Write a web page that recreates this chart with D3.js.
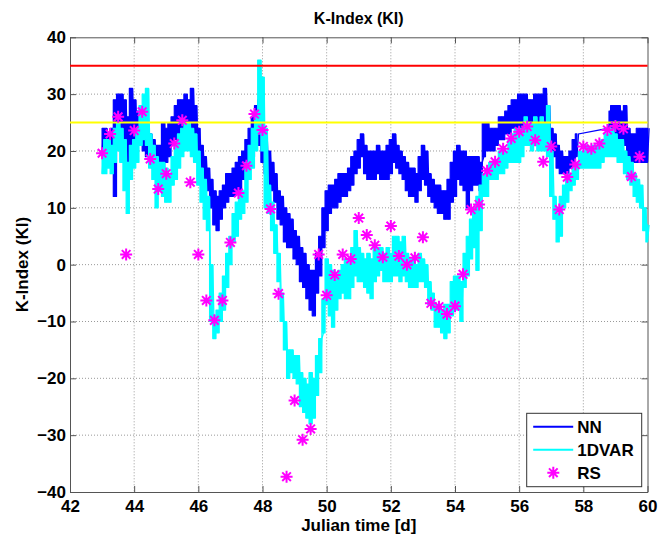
<!DOCTYPE html>
<html>
<head>
<meta charset="utf-8">
<script src="https://cdnjs.cloudflare.com/ajax/libs/d3/7.8.5/d3.min.js"></script>
<style>
    body { margin: 0; background: #fff; }
    #chart-area { width: 665px; height: 534px; }
    text { font-family: "Liberation Sans", Arial, sans-serif; font-weight: bold; fill: #000; }
</style>
</head>
<body>
<div id="chart-area"></div>
<script>

// sample times of the retrievals: every 0.1 d from 43.0 to 60.0
const sampleTimes = d3.range(171).map(i => 43 + i / 10);

// NN retrieval, upper / lower edge of the noisy trace (null = no data)
const nnHi = [
    24, 24, 23, 24, 29, 30, 30, 29, 26, 31,
    29, 27, 27, 26, 24, 23, 22, 21, 21, 25,
    24, 25, 26, 28, 29, 29, 30, 29, 31, 28,
    24, 21, 19, 17, 15, 13, 12, 13, 14, 16,
    16, 17, 18, 19, 20, 22, 24, 26, 28, 29,
    24, 22, 20, 18, 16, 13, 12, 10, 9, 8,
    6, 5, 3, 2, 0, -1, -1, 2, 5, 10,
    13, 14, 14, 15, 16, 16, 16, 17, 19, 20,
    22, 23, 21, 20, 20, 20, 21, 20, 20, 21,
    22, 23, 21, 20, 19, 18, 17, 17, 16, 19,
    21, 20, 16, 15, 14, 14, 13, 13, 15, 18,
    20, 21, 20, 20, 19, 19, 19, 19, 18, 25,
    25, 24, 24, 24, 26, 26, 27, 28, 29, 29,
    30, 30, 30, 29, 29, 30, 30, 30, 31, 28,
    24, 23, 21, 20, 19, 19, 20, 22, 23, null,
    null, null, null, null, null, null, null, null, 27, 28,
    28, 28, 27, 28, 24, 23, 23, 24, 24, 24,
    24
];
const nnLo = [
    20, 19, 19, 18, 12, 22, 23, 19, 17, 20,
    22, 22, 22, 20, 19, 18, 17, 16, 16, 17,
    18, 19, 21, 22, 23, 23, 24, 24, 23, 22,
    20, 16, 15, 13, 10, 7, 6, 8, 10, 11,
    12, 12, 13, 13, 15, 16, 18, 19, 21, 21,
    18, 16, 14, 13, 11, 8, 7, 4, 3, 3,
    1, 0, -3, -4, -6, -8, -9, -5, -2, 3,
    6, 9, 10, 10, 11, 12, 12, 13, 14, 16,
    17, 19, 16, 15, 15, 15, 16, 15, 15, 15,
    16, 18, 17, 16, 15, 13, 12, 12, 11, 13,
    15, 14, 12, 11, 10, 9, 9, 8, 8, 11,
    12, 15, 14, 13, 10, 13, 14, 14, 13, 19,
    20, 20, 20, 21, 22, 22, 23, 23, 24, 24,
    24, 24, 25, 25, 24, 24, 24, 24, 24, 22,
    20, 19, 17, 16, 16, 16, 17, 18, 19, null,
    null, null, null, null, null, null, null, null, 24, 23,
    22, 22, 22, 21, 19, 18, 18, 18, 18, 18,
    18
];

// 1DVAR retrieval, upper / lower edge of the noisy trace
const varHi = [
    20, 22, 22, 21, 24, 25, 24, 22, 18, 21,
    22, 24, 28, 30, 31, 23, 21, 19, 18, 18,
    17, 16, 19, 21, 23, 24, 25, 25, 24, 23,
    20, 17, 15, 12, 0, -9, -8, -5, -2, 2,
    5, 9, 11, 13, 13, 18, 21, 24, 27, 36,
    33, 24, 14, 11, 7, 2, -5, -10, -15, -15,
    -16, -16, -19, -20, -21, -19, -20, -16, -13, -6,
    1, 0, -1, -2, -1, 0, 1, 1, 3, 6,
    3, 2, 1, 2, 1, 3, 3, 3, 2, 3,
    2, 5, 5, 4, 5, 2, 1, 1, 0, 2,
    1, 0, -3, -5, -7, -7, -8, -7, -7, -3,
    -2, -2, -3, 2, 5, 8, 10, 12, 14, 16,
    16, 18, 18, 18, 20, 20, 20, 22, 23, 24,
    24, 24, 26, 25, 25, 26, 25, 26, 25, 28,
    20, 12, 9, 12, 14, 15, 16, 17, 18, 20,
    20, 21, 20, 21, 21, 21, 22, 23, 23, 24,
    23, 22, 22, 20, 19, 18, 16, 15, 14, 10,
    7
];
const varLo = [
    16, 16, 17, 16, 18, 20, 18, 13, 9, 15,
    17, 18, 21, 22, 21, 17, 15, 10, 13, 12,
    11, 11, 14, 15, 17, 19, 20, 20, 19, 18,
    14, 11, 8, 6, -10, -13, -12, -10, -8, -4,
    0, 4, 5, 8, 9, 11, 15, 17, 20, 23,
    20, 10, 9, 6, 2, -3, -10, -15, -20, -19,
    -20, -21, -25, -26, -27, -28, -27, -23, -19, -12,
    -7, -9, -11, -8, -6, -5, -6, -6, -4, -2,
    -3, -3, -4, -5, -6, -3, -2, -1, -3, -3,
    -3, -2, -2, -3, -2, -3, -4, -4, -4, -3,
    -3, -4, -7, -8, -11, -11, -12, -13, -12, -9,
    -8, -8, -10, -4, -2, 1, 3, -1, 6, 12,
    12, 15, 15, 15, 16, 16, 17, 18, 18, 18,
    18, 19, 21, 21, 20, 21, 20, 20, 20, 19,
    12, 8, 4, 5, 10, 11, 13, 14, 15, 17,
    17, 17, 17, 17, 17, 17, 18, 19, 19, 19,
    19, 18, 18, 16, 15, 14, 12, 11, 10, 6,
    4
];

// radiosonde launches
const rsTimes = [
    43.00, 43.25, 43.50, 43.75, 44.00, 44.25, 44.50, 44.75, 45.00, 45.25,
    45.50, 45.75, 46.00, 46.25, 46.50, 46.75, 47.00, 47.25, 47.50, 47.75,
    48.00, 48.25, 48.50, 48.75, 49.00, 49.25, 49.50, 49.75, 50.00, 50.25,
    50.50, 50.75, 51.00, 51.25, 51.50, 51.75, 52.00, 52.25, 52.50, 52.75,
    53.00, 53.25, 53.50, 53.75, 54.00, 54.25, 54.50, 54.75, 55.00, 55.25,
    55.50, 55.75, 56.00, 56.25, 56.50, 56.75, 57.00, 57.25, 57.50, 57.75,
    58.00, 58.25, 58.50, 58.75, 59.00, 59.25, 59.50, 59.75
];
const rsValues = [
    19.6, 23.0, 26.0, 1.8, 23.6, 26.9, 18.6, 13.3, 16.0, 21.3,
    25.4, 14.5, 1.8, -6.3, -9.8, -6.3, 3.9, 12.6, 17.4, 26.5,
    23.7, 9.8, -5.1, -37.3, -23.9, -30.8, -28.9, 1.8, -5.4, -1.8,
    1.8, 1.0, 8.2, 5.2, 3.4, 1.3, 6.8, 1.5, 0.0, 1.2,
    4.8, -6.8, -7.4, -8.7, -7.3, -1.7, 9.7, 10.6, 16.5, 18.1,
    20.4, 22.2, 23.4, 24.3, 21.9, 18.1, 20.8, 9.7, 15.4, 17.6,
    20.8, 20.4, 21.3, 23.7, 24.4, 23.9, 15.5, 19.0
];

// threshold lines
const thresholds = [
    {value: 35, color: "#ff0000"},
    {value: 25, color: "#ffff00"}
];

const xTicks = [42, 44, 46, 48, 50, 52, 54, 56, 58, 60];
const yTicks = [-40, -30, -20, -10, 0, 10, 20, 30, 40];

const legendItems = [
    {label: "NN", color: "#0000ff", type: "line"},
    {label: "1DVAR", color: "#00ffff", type: "line"},
    {label: "RS", color: "#ff00ff", type: "star"}
];


class KIndexVis {

    constructor(parentElement) {
        this.parentElement = parentElement;
        this.initVis();
    }

    initVis() {
        let vis = this;

        vis.margin = {top: 37.3, left: 70, right: 17.5, bottom: 42};
        vis.outerWidth = 665;
        vis.outerHeight = 534;
        vis.width = vis.outerWidth - vis.margin.left - vis.margin.right;
        vis.height = vis.outerHeight - vis.margin.top - vis.margin.bottom;

        vis.root = d3.select("#" + vis.parentElement).append("svg")
            .attr("width", vis.outerWidth)
            .attr("height", vis.outerHeight);

        vis.svg = vis.root.append("g")
            .attr("transform", `translate(${vis.margin.left}, ${vis.margin.top})`);

        vis.x = d3.scaleLinear().domain([42, 60]).range([0, vis.width]);
        vis.y = d3.scaleLinear().domain([-40, 40]).range([vis.height, 0]);

        vis.drawFrame();
        vis.drawData();
        vis.drawLegend();
    }

    drawFrame() {
        let vis = this;

        // dotted grid
        vis.svg.append("g").selectAll("line")
            .data(xTicks.slice(1, -1))
            .enter().append("line")
            .attr("x1", d => vis.x(d)).attr("x2", d => vis.x(d))
            .attr("y1", 0).attr("y2", vis.height)
            .attr("stroke", "#999").attr("stroke-dasharray", "1,2");

        vis.svg.append("g").selectAll("line")
            .data(yTicks.slice(1, -1))
            .enter().append("line")
            .attr("y1", d => vis.y(d)).attr("y2", d => vis.y(d))
            .attr("x1", 0).attr("x2", vis.width)
            .attr("stroke", "#999").attr("stroke-dasharray", "1,2");

        // axes, ticks pointing inwards, box all round
        let axisColor = "#555";
        let tickLen = 6;

        let bottom = vis.svg.append("g")
            .attr("transform", `translate(0, ${vis.height})`)
            .call(d3.axisBottom(vis.x).tickValues(xTicks).tickSizeInner(-tickLen).tickSizeOuter(0).tickPadding(8));
        let top = vis.svg.append("g")
            .call(d3.axisTop(vis.x).tickValues(xTicks).tickSizeInner(-tickLen).tickSizeOuter(0).tickFormat(""));
        let left = vis.svg.append("g")
            .call(d3.axisLeft(vis.y).tickValues(yTicks).tickSizeInner(-tickLen).tickSizeOuter(0).tickPadding(4));
        let right = vis.svg.append("g")
            .attr("transform", `translate(${vis.width}, 0)`)
            .call(d3.axisRight(vis.y).tickValues(yTicks).tickSizeInner(-tickLen).tickSizeOuter(0).tickFormat(""));

        [bottom, top, left, right].forEach(g => {
            g.selectAll("path, line").attr("stroke", axisColor);
            g.selectAll("text")
                .style("font-size", "17px")
                .style("font-family", "'Liberation Sans', Arial, sans-serif")
                .style("font-weight", "bold")
                .attr("fill", "#000");
        });

        // titles
        vis.root.append("text")
            .attr("x", vis.margin.left + vis.width / 2)
            .attr("y", 24)
            .attr("text-anchor", "middle")
            .style("font-size", "16px")
            .text("K-Index (KI)");

        vis.root.append("text")
            .attr("x", vis.margin.left + vis.width / 2)
            .attr("y", 531)
            .attr("text-anchor", "middle")
            .style("font-size", "17px")
            .text("Julian time [d]");

        vis.root.append("text")
            .attr("transform", `translate(28, ${vis.margin.top + vis.height / 2}) rotate(-90)`)
            .attr("text-anchor", "middle")
            .style("font-size", "17px")
            .text("K-Index (KI)");
    }

    // zig-zag through the lower and upper edge; inside the band it is hidden,
    // across the data gap it gives the thin connecting line
    tracePoints(hi, lo) {
        let pts = [];
        sampleTimes.forEach((t, i) => {
            if (hi[i] !== null) {
                pts.push([t, lo[i]]);
                pts.push([t + 0.05, hi[i]]);
            }
        });
        return pts;
    }

    bandRows(hi, lo) {
        return sampleTimes.map((t, i) => ({t: t, hi: hi[i], lo: lo[i]}));
    }

    drawTrace(hi, lo, color) {
        let vis = this;

        // stepped edges keep the ragged look of the noisy original
        let area = d3.area()
            .defined(d => d.hi !== null)
            .curve(d3.curveStep)
            .x(d => vis.x(d.t))
            .y0(d => vis.y(d.lo))
            .y1(d => vis.y(d.hi));

        let line = d3.line()
            .x(d => vis.x(d[0]))
            .y(d => vis.y(d[1]));

        vis.plot.append("path")
            .datum(vis.bandRows(hi, lo))
            .attr("d", area)
            .attr("fill", color)
            .attr("stroke", color)
            .attr("stroke-width", 1.2)
            .attr("stroke-linejoin", "round");

        vis.plot.append("path")
            .datum(vis.tracePoints(hi, lo))
            .attr("d", line)
            .attr("fill", "none")
            .attr("stroke", color)
            .attr("stroke-width", 1.3);
    }

    drawData() {
        let vis = this;

        vis.plot = vis.svg.append("g");

        vis.drawTrace(nnHi, nnLo, "#0000ff");
        vis.drawTrace(varHi, varLo, "#00ffff");

        vis.plot.selectAll(".threshold")
            .data(thresholds)
            .enter().append("line")
            .attr("class", "threshold")
            .attr("x1", 0).attr("x2", vis.width)
            .attr("y1", d => vis.y(d.value)).attr("y2", d => vis.y(d.value))
            .attr("stroke", d => d.color)
            .attr("stroke-width", 2);

        vis.plot.selectAll(".rs")
            .data(rsTimes.map((t, i) => ({t: t, v: rsValues[i]})))
            .enter().append("path")
            .attr("class", "rs")
            .attr("transform", d => `translate(${vis.x(d.t)}, ${vis.y(d.v)})`)
            .attr("d", vis.starPath(6))
            .attr("fill", "none")
            .attr("stroke", "#ff00ff")
            .attr("stroke-width", 2);
    }

    starPath(r) {
        let k = r * 0.72;
        return `M${-r},0H${r}M0,${-r}V${r}M${-k},${-k}L${k},${k}M${-k},${k}L${k},${-k}`;
    }

    drawLegend() {
        let vis = this;

        let box = {x: 526.7, y: 413.3, w: 115, h: 73.4};

        let lg = vis.root.append("g");

        lg.append("rect")
            .attr("x", box.x).attr("y", box.y)
            .attr("width", box.w).attr("height", box.h)
            .attr("fill", "#fff")
            .attr("stroke", "#333")
            .attr("stroke-width", 1);

        let rows = lg.selectAll(".legend-row")
            .data(legendItems)
            .enter().append("g")
            .attr("class", "legend-row")
            .attr("transform", (d, i) => `translate(${box.x}, ${box.y + 13.4 + i * 23})`);

        rows.filter(d => d.type === "line").append("line")
            .attr("x1", 6.5).attr("x2", 46.5)
            .attr("stroke", d => d.color)
            .attr("stroke-width", 2);

        rows.filter(d => d.type === "star").append("path")
            .attr("transform", "translate(26.6, 0)")
            .attr("d", vis.starPath(6))
            .attr("fill", "none")
            .attr("stroke", d => d.color)
            .attr("stroke-width", 2);

        rows.append("text")
            .attr("x", 50.6)
            .attr("dy", "0.36em")
            .style("font-size", "17px")
            .text(d => d.label);
    }
}

let myKIndexVis = new KIndexVis("chart-area");

</script>
</body>
</html>
